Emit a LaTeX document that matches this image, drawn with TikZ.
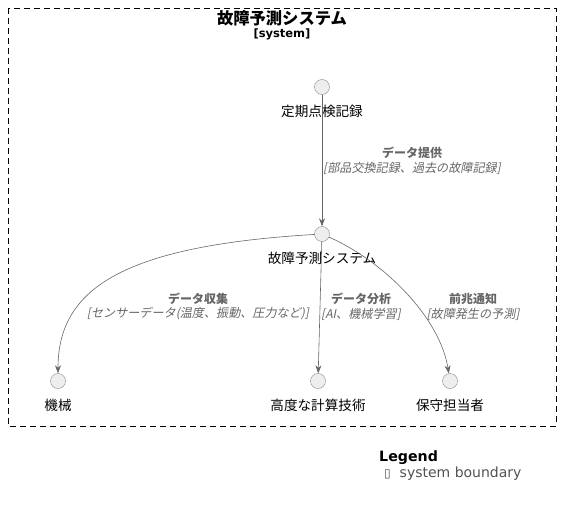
\documentclass[tikz,border=0pt]{standalone}
\usepackage{fontspec}
\usepackage{tikz}
\usetikzlibrary{arrows.meta}
\setmainfont{Noto Sans CJK JP}
\newfontfamily\latinfont{DejaVu Sans}
\newfontfamily\cjkslant[FakeSlant=0.2]{Noto Sans CJK JP}
\definecolor{edgegray}{HTML}{666666}
\definecolor{dotfill}{HTML}{EEEEEE}
\definecolor{dotline}{HTML}{888888}
\tikzset{
  elem/.style={circle, draw=dotline, fill=dotfill, minimum size=15pt, inner sep=0pt},
  elemtext/.style={inner sep=0pt, font=\fontsize{13.6}{15}\selectfont},
  flowtitle/.style={inner sep=0pt, text=edgegray, font=\fontsize{12}{13}\selectfont\bfseries},
  flowtech/.style={inner sep=0pt, text=edgegray, font=\fontsize{12.1}{13}\selectfont\cjkslant},
  flow/.style={draw=edgegray, line width=0.6pt, -{Stealth[length=8pt,width=6pt]}}
}
\newcommand{\elem}[4]{\node[elem] (#1) at (#2,#3) {}; \node[elemtext] (#1-text) at (#2,#3+24) {#4};}
\newcommand{\flowlabel}[5]{\node[flowtitle] (#1-title) at (#2,#3) {#4}; \node[flowtech] (#1-tech) at (#2,#3+15) {#5};}

\begin{document}
\begin{tikzpicture}[x=1pt, y=-1pt]
	\useasboundingbox (0,0) rectangle (561,508);
	% system boundary
	\draw[dashed, dash pattern=on 6pt off 4pt] (8,8) rectangle (556,426);
	\node[inner sep=0pt, font=\fontsize{16.3}{18}\selectfont\bfseries] (sys-title) at (282,18) {故障予測システム};
	\node[inner sep=0pt, font=\fontsize{11.5}{13}\selectfont\latinfont\bfseries] (sys-type) at (282,34) {[system]};

	\elem{records}{322}{87}{定期点検記録}
	\elem{predict}{322}{234}{故障予測システム}
	\elem{machine}{58}{381}{機械}
	\elem{compute}{318}{381}{高度な計算技術}
	\elem{staff}{450}{381}{保守担当者}

	\draw[flow] (records) -- (predict);
	\draw[flow] (predict) .. controls (120,246) and (58,290) .. (machine);
	\draw[flow] (predict) -- (compute);
	\draw[flow] (predict) .. controls (385,262) and (440,318) .. (staff);

	\flowlabel{supply}{412}{153}{データ提供}{[部品交換記録、過去の故障記録]}
	\flowlabel{collect}{198}{299}{データ収集}{[センサーデータ(温度、振動、圧力など)]}
	\flowlabel{analyse}{361}{299}{データ分析}{[AI、機械学習]}
	\flowlabel{notify}{473}{299}{前兆通知}{[故障発生の予測]}

	% legend
	\node[anchor=west, inner sep=0pt, font=\fontsize{14.2}{16}\selectfont\latinfont\bfseries] (legend) at (379,458) {Legend};
	\node[anchor=west, inner sep=0pt, text=edgegray!80!black, font=\fontsize{14}{16}\selectfont\latinfont] (legend-item) at (384,474) {{\fontsize{12}{13}\selectfont ▯}\ \ system boundary};
\end{tikzpicture}
\end{document}
